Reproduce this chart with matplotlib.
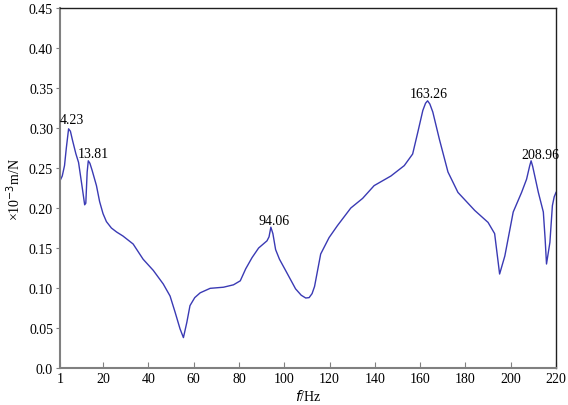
import matplotlib
matplotlib.use("Agg")
import matplotlib.pyplot as plt

# frequency (Hz) and receptance (x10^-3 m/N)
freq = [1, 2.0, 3.0, 3.8, 4.8, 5.6, 6.5, 8.0, 9.2, 10.8, 11.9, 12.4,
        13.0, 13.5, 14.2, 15.2, 17.1, 18.5, 20.0, 21.5, 23.7, 26.0,
        28.8, 33.3, 37.7, 42.2, 46.6, 49.6, 51.8, 54.0, 55.5, 57.0, 58.4,
        60.5, 62.9, 67.3, 73.2, 77.6, 80.6, 83.0, 85.8, 88.7, 92.4, 93.3,
        94.1, 95.0, 96.2, 97.9, 100.6, 105.0, 107.5, 109.5, 111.0, 112.3,
        113.4, 116.1, 119.8, 123.5, 129.4, 134.6, 139.7, 147.1, 153.0,
        156.7, 159.0, 161.2, 162.4, 163.3, 164.3, 165.6, 168.5, 172.3,
        176.7, 184.1, 190.0, 192.9, 193.9, 195.1, 197.4, 201.1, 204.8,
        207.0, 208.4, 209.0, 209.7, 212.2, 214.4, 215.2, 215.8, 217.3,
        218.4, 219.2, 220]
resp = [0.234, 0.240, 0.253, 0.275, 0.299, 0.296, 0.285, 0.268, 0.257,
        0.226, 0.204, 0.206, 0.245, 0.259, 0.256, 0.247, 0.228, 0.208,
        0.193, 0.183, 0.175, 0.170, 0.165, 0.155, 0.136, 0.122, 0.105,
        0.090, 0.070, 0.049, 0.038, 0.057, 0.078, 0.088, 0.094, 0.0996,
        0.101, 0.104, 0.109, 0.124, 0.138, 0.150, 0.159, 0.164, 0.176,
        0.168, 0.148, 0.136, 0.122, 0.099, 0.091, 0.0875, 0.088, 0.093,
        0.102, 0.1425, 0.163, 0.178, 0.200, 0.212, 0.228, 0.240, 0.253,
        0.2675, 0.295, 0.322, 0.331, 0.334, 0.330, 0.320, 0.286, 0.245,
        0.2195, 0.197, 0.182, 0.168, 0.145, 0.1175, 0.140, 0.195, 0.2195,
        0.236, 0.253, 0.259, 0.252, 0.2195, 0.195, 0.161, 0.130, 0.157,
        0.203, 0.214, 0.2195]

# labelled resonance peaks and where their text sits (offset in px)
peak_labels = ["4.23", "13.81", "94.06", "163.26", "208.96"]
peak_freq = [4.8, 13.5, 94.1, 163.3, 209.0]
peak_resp = [0.299, 0.259, 0.176, 0.334, 0.259]
peak_offset = [(3, 9), (5, 7), (3, 7), (1, 7), (9, 6)]

xticks = [1, 20, 40, 60, 80, 100, 120, 140, 160, 180, 200, 220]
yticks = [0.0, 0.05, 0.10, 0.15, 0.20, 0.25, 0.30, 0.35, 0.40, 0.45]
ytick_labels = ["0.0", "0.05", "0.10", "0.15", "0.20", "0.25", "0.30",
                "0.35", "0.40", "0.45"]

plt.rcParams["font.family"] = ["Liberation Serif", "DejaVu Serif"]

fig = plt.figure(figsize=(5.68, 4.06), dpi=100)
ax = fig.add_axes([0.1056, 0.0911, 0.8733, 0.8867])

ax.plot(freq, resp, color="#3a3ab4", lw=1.0)

for lab, f, r, off in zip(peak_labels, peak_freq, peak_resp, peak_offset):
    ax.annotate(lab, (f, r), xytext=off, textcoords="offset pixels",
                ha="center", va="center", fontsize=10)

ax.set_xlim(1, 220)
ax.set_ylim(0, 0.45)
ax.set_xticks(xticks)
ax.set_yticks(yticks)
ax.set_yticklabels(ytick_labels)
ax.tick_params(axis="x", direction="in", length=4, labelsize=10, pad=3,
               color="#808080")
ax.tick_params(axis="y", direction="out", length=3, labelsize=10, pad=2,
               color="#808080")

for side in ["left", "bottom"]:
    ax.spines[side].set_color("#808080")
    ax.spines[side].set_linewidth(1.5)
for side in ["top", "right"]:
    ax.spines[side].set_color("#202020")
    ax.spines[side].set_linewidth(1.0)

ax.set_xlabel(r"$\mathit{f}$/Hz", fontsize=10, labelpad=2)
ax.set_ylabel("×10$^{-3}$m/N", fontsize=10, labelpad=4)

fig.savefig("out.png", dpi=100)
